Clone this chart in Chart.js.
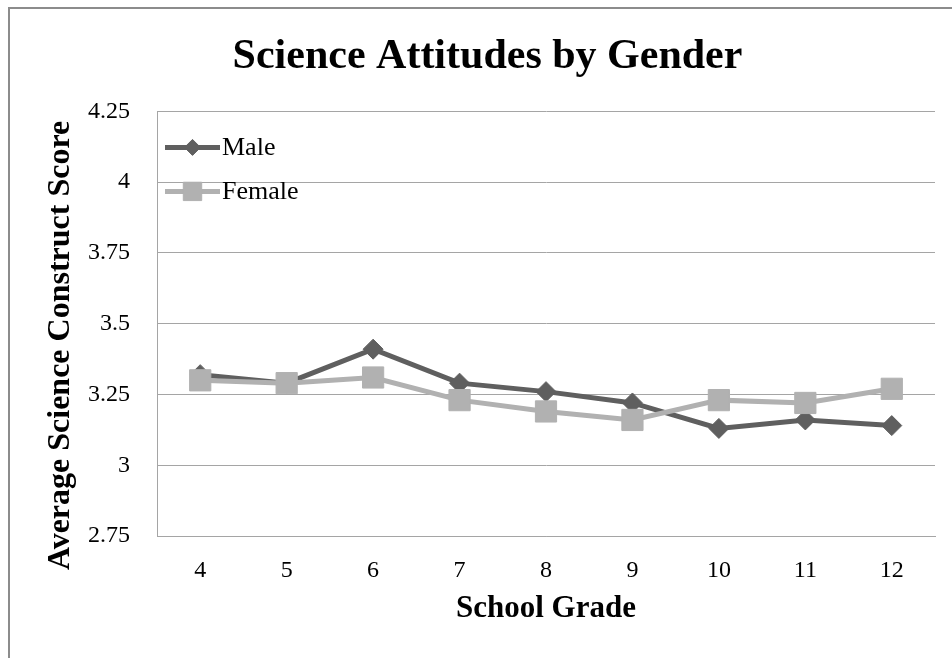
<!DOCTYPE html>
<html>
<head>
<meta charset="utf-8">
<title>Science Attitudes by Gender</title>
<script src="https://cdn.jsdelivr.net/npm/chart.js@4/dist/chart.umd.min.js"></script>
<style>
  html, body { margin: 0; padding: 0; background: #ffffff; overflow: hidden; }
  #frame {
    position: absolute; left: 8px; top: 7px;
    width: 960px; height: 680px;
    border: 2px solid #8c8c8c; background: #ffffff;
  }
  #chart { display: block; }
</style>
</head>
<body>
<div id="frame"><canvas id="chart" width="952" height="649"></canvas></div>
<script>
// School grades on the x axis
const grades = ['4', '5', '6', '7', '8', '9', '10', '11', '12'];
// Average science construct score per grade
const maleScores   = [3.32, 3.29, 3.41, 3.29, 3.26, 3.22, 3.13, 3.16, 3.14];
const femaleScores = [3.30, 3.29, 3.31, 3.23, 3.19, 3.16, 3.23, 3.22, 3.27];
// Value axis ticks
const yTicks = [2.75, 3, 3.25, 3.5, 3.75, 4, 4.25];
const yTickLabels = ['2.75', '3', '3.25', '3.5', '3.75', '4', '4.25'];
const yAxisTitle = 'Average Science Construct Score';

const SERIF = '"Liberation Serif", "Times New Roman", Times, serif';
const MALE_COLOR = '#5f5f5f';
const FEMALE_COLOR = '#b1b1b1';
const GRID_COLOR = '#a5a5a5';

// Legend drawn inside the plot: a line segment with the series marker on it
const insideLegend = {
  id: 'insideLegend',
  afterDraw(chart) {
    const ctx = chart.ctx;
    const area = chart.chartArea;
    const rows = [36, 80];
    ctx.save();
    chart.data.datasets.forEach((ds, i) => {
      const y = area.top + rows[i];
      const x0 = area.left + 8;
      const x1 = area.left + 63;
      ctx.strokeStyle = ds.borderColor;
      ctx.lineWidth = ds.borderWidth;
      ctx.beginPath();
      ctx.moveTo(x0, y);
      ctx.lineTo(x1, y);
      ctx.stroke();
      ctx.fillStyle = ds.pointBackgroundColor;
      ctx.strokeStyle = ds.pointBorderColor;
      ctx.lineWidth = 1;
      Chart.helpers.drawPoint(ctx, {
        pointStyle: ds.pointStyle,
        radius: ds.legendRadius,
        rotation: 0,
        borderWidth: 1
      }, (x0 + x1) / 2, y);
      ctx.fillStyle = '#000000';
      ctx.font = '26px ' + SERIF;
      ctx.textBaseline = 'middle';
      ctx.textAlign = 'left';
      ctx.fillText(ds.label, x1 + 2, y + 1);
    });
    ctx.restore();
  }
};

// Vertical value-axis title, set a little below the middle of the plot
const valueAxisTitle = {
  id: 'valueAxisTitle',
  afterDraw(chart) {
    const ctx = chart.ctx;
    const area = chart.chartArea;
    ctx.save();
    ctx.translate(51, area.top + 234);
    ctx.rotate(-Math.PI / 2);
    ctx.fillStyle = '#000000';
    ctx.font = 'bold 32px ' + SERIF;
    ctx.textAlign = 'center';
    ctx.textBaseline = 'middle';
    ctx.fillText(yAxisTitle, 0, 0);
    ctx.restore();
  }
};

new Chart(document.getElementById('chart'), {
  type: 'line',
  data: {
    labels: grades,
    datasets: [
      {
        label: 'Male',
        data: maleScores,
        borderColor: MALE_COLOR,
        backgroundColor: MALE_COLOR,
        pointBackgroundColor: MALE_COLOR,
        pointBorderColor: MALE_COLOR,
        borderWidth: 5,
        pointStyle: 'rectRot',
        pointRadius: 10,
        pointHoverRadius: 10,
        pointBorderWidth: 1,
        legendRadius: 8,
        tension: 0,
        order: 2
      },
      {
        label: 'Female',
        data: femaleScores,
        borderColor: FEMALE_COLOR,
        backgroundColor: FEMALE_COLOR,
        pointBackgroundColor: FEMALE_COLOR,
        pointBorderColor: FEMALE_COLOR,
        borderWidth: 5,
        pointStyle: 'rect',
        pointRadius: 15,
        pointHoverRadius: 15,
        pointBorderWidth: 1,
        legendRadius: 13,
        tension: 0,
        order: 1
      }
    ]
  },
  options: {
    responsive: false,
    animation: false,
    events: [],
    layout: { padding: { left: 30, right: 27, top: 0, bottom: 4 } },
    plugins: {
      legend: { display: false },
      tooltip: { enabled: false },
      title: {
        display: true,
        text: 'Science Attitudes by Gender',
        color: '#000000',
        font: { family: SERIF, size: 42, weight: 'bold' },
        padding: { top: 23, bottom: 29 }
      }
    },
    scales: {
      x: {
        offset: true,
        afterFit(scale) {
          scale.height = 118;
        },
        grid: { display: false, drawTicks: false },
        border: { display: true, color: GRID_COLOR, width: 1 },
        ticks: {
          color: '#000000',
          padding: 20,
          maxRotation: 0,
          font: { family: SERIF, size: 24 }
        },
        title: {
          display: true,
          text: 'School Grade',
          color: '#000000',
          font: { family: SERIF, size: 31, weight: 'bold' },
          padding: { top: 0, bottom: 26 }
        }
      },
      y: {
        min: 2.75,
        max: 4.25,
        afterBuildTicks(scale) {
          scale.ticks = yTicks.map(v => ({ value: v }));
        },
        afterFit(scale) {
          scale.width = 117;
        },
        grid: { color: GRID_COLOR, lineWidth: 1, drawTicks: false },
        border: { display: true, color: GRID_COLOR, width: 1 },
        ticks: {
          color: '#000000',
          padding: 27,
          font: { family: SERIF, size: 24 },
          callback(value) {
            const i = yTicks.indexOf(value);
            return i >= 0 ? yTickLabels[i] : '';
          }
        },
        title: { display: false }
      }
    }
  },
  plugins: [insideLegend, valueAxisTitle]
});
</script>
</body>
</html>
